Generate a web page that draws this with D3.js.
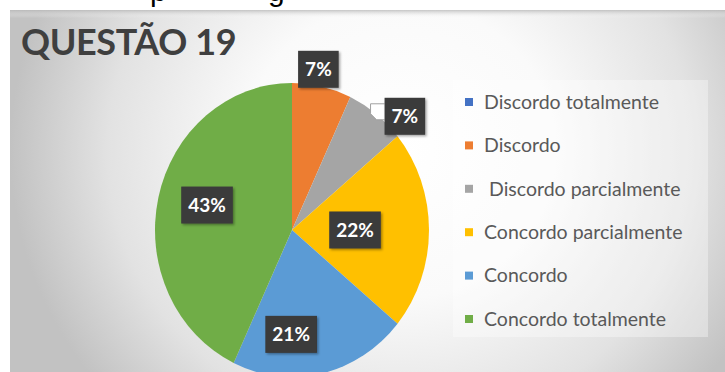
<!DOCTYPE html>
<html>
<head>
<meta charset="utf-8">
<script src="https://cdn.jsdelivr.net/npm/d3@7"></script>
<style>
  html, body { margin: 0; padding: 0; background: #ffffff; }
  svg { display: block; }
</style>
</head>
<body>
<svg id="chart" width="725" height="372"></svg>
<script>
// ---- data ----
const title = "QUESTÃO 19";
const categories = [
  "Discordo totalmente",
  "Discordo",
  " Discordo parcialmente",
  "Concordo parcialmente",
  "Concordo",
  "Concordo totalmente"
];
const values = [0, 7, 7, 22, 21, 43];
const colors = ["#4472C4", "#ED7D31", "#A5A5A5", "#FFC000", "#5B9BD5", "#70AD47"];

// ---- layout ----
const W = 725, H = 372;
const cx = 292, cy = 230, rx = 137, ry = 147;
// label placement (angle in degrees, radius factor) per slice, Excel "best fit"-like
const labelLayout = [null, {a: 10, k: 1.11}, {a: 46.8, k: 1.13}, {a: 90, k: 0.46}, {a: 180.5, k: 0.71}, {a: 285.3, k: 0.643}];

const svg = d3.select("#chart");
const defs = svg.append("defs");

const bg = defs.append("radialGradient").attr("id", "bgGrad")
  .attr("gradientUnits", "userSpaceOnUse")
  .attr("cx", 400).attr("cy", 150).attr("r", 390)
  .attr("gradientTransform", "translate(400,150) scale(1,0.95) translate(-400,-150)");
bg.append("stop").attr("offset", "0").attr("stop-color", "#ffffff");
bg.append("stop").attr("offset", "0.4").attr("stop-color", "#fafafa");
bg.append("stop").attr("offset", "0.75").attr("stop-color", "#e2e2e2");
bg.append("stop").attr("offset", "1").attr("stop-color", "#c2c2c2");

const topShade = defs.append("linearGradient").attr("id", "topShade")
  .attr("x1", 0).attr("y1", 0).attr("x2", 0).attr("y2", 1);
topShade.append("stop").attr("offset", "0").attr("stop-color", "#b8b8b8").attr("stop-opacity", 0.8);
topShade.append("stop").attr("offset", "1").attr("stop-color", "#ffffff").attr("stop-opacity", 0);

const sh = defs.append("filter").attr("id", "shadow").attr("x", "-30%").attr("y", "-30%").attr("width", "160%").attr("height", "160%");
sh.append("feDropShadow").attr("dx", 1.5).attr("dy", 1.5).attr("stdDeviation", 1.2)
  .attr("flood-color", "#000").attr("flood-opacity", 0.35);

// text fragments from the line above the chart (cut off in the original too)
svg.append("text").attr("x", 150).attr("y", 1).attr("font-family", "Liberation Sans, Arial, sans-serif")
  .attr("font-size", 30).attr("fill", "#000").text("p");
svg.append("text").attr("x", 268).attr("y", 1).attr("font-family", "Liberation Sans, Arial, sans-serif")
  .attr("font-size", 30).attr("fill", "#000").text("g");

// chart panel
svg.append("rect").attr("x", 10).attr("y", 10).attr("width", W).attr("height", H)
  .attr("fill", "url(#bgGrad)");
svg.append("rect").attr("x", 10).attr("y", 10).attr("width", W).attr("height", 8)
  .attr("fill", "url(#topShade)");

// title
svg.append("text")
  .attr("x", 21).attr("y", 55)
  .attr("font-family", "Lato, 'Open Sans', sans-serif")
  .attr("font-weight", 700)
  .attr("font-size", 36)
  .attr("letter-spacing", -0.4)
  .attr("fill", "#3f3f3f")
  .text(title);

// pie
const data = categories.map((c, i) => ({cat: c, value: values[i], color: colors[i], layout: labelLayout[i]}));
const pie = d3.pie().sort(null).value(d => d.value).startAngle(0).endAngle(2 * Math.PI);
const arcs = pie(data);
const arc = d3.arc().innerRadius(0).outerRadius(rx);

const pieG = svg.append("g")
  .attr("transform", `translate(${cx},${cy}) scale(1,${ry / rx})`);
pieG.selectAll("path")
  .data(arcs.filter(d => d.data.value > 0))
  .join("path")
  .attr("d", arc)
  .attr("fill", d => d.data.color)
  .attr("stroke", "none");

// labels
const fmt = d3.format(".0%");
const total = d3.sum(values);
const labG = svg.append("g");
arcs.filter(d => d.data.value > 0).forEach(d => {
  const lay = d.data.layout;
  const ang = lay.a * Math.PI / 180;
  const lx = cx + Math.sin(ang) * rx * lay.k;
  const ly = cy - Math.cos(ang) * ry * lay.k;
  const g = labG.append("g").attr("transform", `translate(${lx},${ly})`);
  const rect = g.append("rect").attr("fill", "#3a3a3a").attr("filter", "url(#shadow)");
  const t = g.append("text")
    .attr("text-anchor", "middle")
    .attr("dy", "0.36em")
    .attr("font-family", "Lato, 'Open Sans', sans-serif")
    .attr("font-weight", 700)
    .attr("font-size", 19)
    .attr("fill", "#ffffff")
    .text(fmt(d.data.value / total));
  const bb = t.node().getBBox();
  const bw = bb.width + 14, bh = 37;
  rect.attr("x", -bw / 2).attr("y", -bh / 2).attr("width", bw).attr("height", bh);
  if (lay.k > 1 && lay.a > 30) {
    // small leader callout to the slice
    const x0 = -bw / 2;
    g.insert("path", "rect")
      .attr("d", `M${x0},${-bh / 2 + 6} L${x0 - 14},${-bh / 2 + 6} L${x0 - 14},${-bh / 2 + 16} L${x0 - 8},${-bh / 2 + 22} L${x0},${-bh / 2 + 22}`)
      .attr("fill", "#ffffff")
      .attr("stroke", "#a0a0a0")
      .attr("stroke-width", 1);
  }
});

// legend
svg.append("rect").attr("x", 453).attr("y", 80).attr("width", 255).attr("height", 257)
  .attr("fill", "#ffffff").attr("fill-opacity", 0.35);
const legY = d3.scalePoint().domain(categories).range([102, 319]);
const leg = svg.append("g").selectAll("g").data(data).join("g")
  .attr("transform", d => `translate(465,${legY(d.cat)})`);
leg.append("rect").attr("x", 0).attr("y", -4).attr("width", 8).attr("height", 8)
  .attr("fill", d => d.color);
leg.append("text")
  .attr("x", 19).attr("dy", "0.35em")
  .attr("font-family", "Lato, 'Open Sans', sans-serif")
  .attr("font-size", 19.5)
  .attr("fill", "#595959")
  .style("white-space", "pre")
  .text(d => d.cat);
</script>
</body>
</html>
